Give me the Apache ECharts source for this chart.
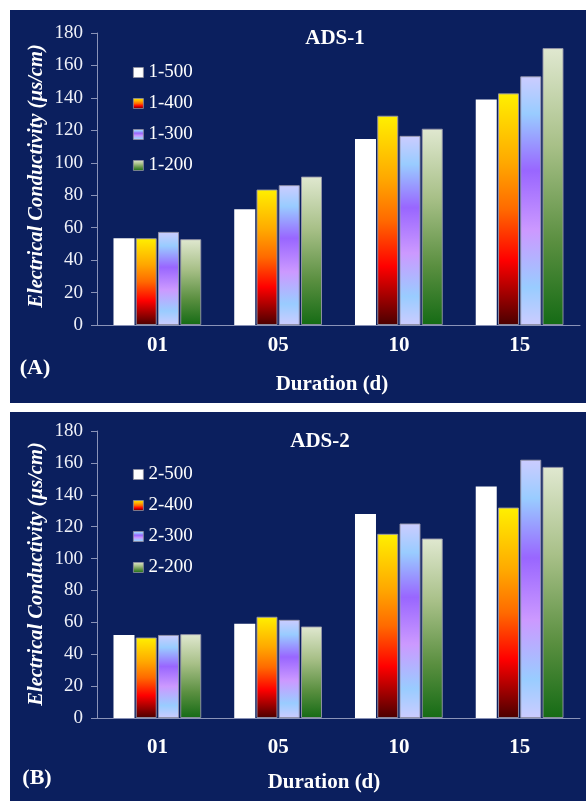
<!DOCTYPE html>
<html>
<head>
<meta charset="utf-8">
<script src="https://cdn.jsdelivr.net/npm/echarts@6/dist/echarts.min.js"></script>
<style>
html,body{margin:0;padding:0;background:#fff;}
#c{width:586px;height:801px;}
</style>
</head>
<body>
<div id="c"></div>
<script>
var categories = ['01', '05', '10', '15'];
var namesA = ['1-500', '1-400', '1-300', '1-200'];
var namesB = ['2-500', '2-400', '2-300', '2-200'];
var a500 = [53.5, 71.4, 114.6, 139.0];
var a400 = [53.5, 83.5, 129.0, 142.8];
var a300 = [57.4, 86.2, 116.6, 153.3];
var a200 = [52.9, 91.5, 121.0, 170.7];
var b500 = [52.1, 59.1, 128.0, 145.2];
var b400 = [50.5, 63.5, 115.5, 132.0];
var b300 = [52.1, 61.6, 122.0, 162.0];
var b200 = [52.6, 57.4, 112.6, 157.5];
var yMin = 0, yMax = 180, yStep = 20;
var titleA = 'ADS-1', titleB = 'ADS-2';
var xName = 'Duration (d)';
var yName = 'Electrical Conductivity (\u00b5s/cm)';

var FONT = '"Liberation Serif", "Times New Roman", serif';
var NAVY = '#0b1f5e';
var AXIS = '#8a93b8';

function grad(stops) {
  return new echarts.graphic.LinearGradient(0, 0, 0, 1,
    stops.map(function (s) { return { offset: s[0], color: s[1] }; }));
}
var fills = [
  '#ffffff',
  grad([[0, '#fff000'], [0.3, '#ffa800'], [0.5, '#ff6a00'], [0.72, '#ff0000'], [1, '#4a0000']]),
  grad([[0, '#ccccff'], [0.15, '#99ccff'], [0.38, '#9966ff'], [0.62, '#cc99ff'], [0.85, '#99ccff'], [1, '#ccccff']]),
  grad([[0, '#e0e8d0'], [0.35, '#a8c088'], [0.7, '#5a8f40'], [1, '#156b15']])
];

var chart = echarts.init(document.getElementById('c'), null, { renderer: 'canvas' });

function yAxisCfg(gi) {
  return {
    type: 'value', gridIndex: gi, min: yMin, max: yMax, interval: yStep,
    axisLine: { show: true, lineStyle: { color: AXIS, width: 1 } },
    axisTick: { show: true, length: 6, lineStyle: { color: AXIS } },
    splitLine: { show: false },
    axisLabel: { color: '#eef0f8', fontFamily: FONT, fontSize: 19, margin: 14 }
  };
}
function xAxisCfg(gi, margin) {
  return {
    type: 'category', gridIndex: gi, data: categories,
    axisLine: { show: true, lineStyle: { color: AXIS, width: 1 } },
    axisTick: { show: false },
    axisLabel: { color: '#ffffff', fontFamily: FONT, fontSize: 21, fontWeight: 'bold', margin: margin }
  };
}
function mkSeries(names, datas, gi) {
  return names.map(function (n, i) {
    return {
      name: n, type: 'bar', xAxisIndex: gi, yAxisIndex: gi,
      data: datas[i], barWidth: 21, barGap: '6%',
      itemStyle: { color: fills[i], borderColor: 'rgba(150,150,170,0.9)', borderWidth: i === 0 ? 0 : 1 }
    };
  });
}
function legendCfg(names, top) {
  return {
    data: names, orient: 'vertical', left: 128, top: top,
    itemWidth: 10, itemHeight: 10, itemGap: 12,
    icon: 'rect',
    itemStyle: { borderColor: '#9090a0', borderWidth: 0.8 },
    textStyle: { color: '#ffffff', fontFamily: FONT, fontSize: 19, lineHeight: 18, padding: [0, 0, 0, 0] }
  };
}
function txt(x, y, text, size, weight, style, rot) {
  return {
    type: 'text', x: x, y: y, rotation: rot || 0, z: 10,
    style: {
      text: text, fill: '#ffffff', align: 'center', verticalAlign: 'middle',
      font: (style || 'normal') + ' ' + (weight || 'bold') + ' ' + size + 'px ' + FONT
    }
  };
}

chart.setOption({
  backgroundColor: '#ffffff',
  animation: false,
  graphic: [
    { type: 'rect', shape: { x: 10, y: 10, width: 576, height: 393 }, style: { fill: NAVY }, z: -10 },
    { type: 'rect', shape: { x: 10, y: 412, width: 576, height: 389 }, style: { fill: NAVY }, z: -10 },
    txt(335, 39, titleA, 21, 'bold'),
    txt(320, 442, titleB, 21, 'bold'),
    txt(332, 385, xName, 21, 'bold'),
    txt(324, 783, xName, 21, 'bold'),
    txt(35, 368, '(A)', 22, 'bold'),
    txt(37, 778, '(B)', 22, 'bold'),
    txt(37, 176, yName, 20.5, 'bold', 'italic', Math.PI / 2),
    txt(37, 574, yName, 20.5, 'bold', 'italic', Math.PI / 2)
  ],
  grid: [
    { left: 97, top: 33, width: 483, height: 292 },
    { left: 97, top: 431, width: 483, height: 287 }
  ],
  xAxis: [xAxisCfg(0, 10), xAxisCfg(1, 19)],
  yAxis: [yAxisCfg(0), yAxisCfg(1)],
  legend: [legendCfg(namesA, 58), legendCfg(namesB, 460)],
  series: mkSeries(namesA, [a500, a400, a300, a200], 0)
    .concat(mkSeries(namesB, [b500, b400, b300, b200], 1))
});
</script>
</body>
</html>
